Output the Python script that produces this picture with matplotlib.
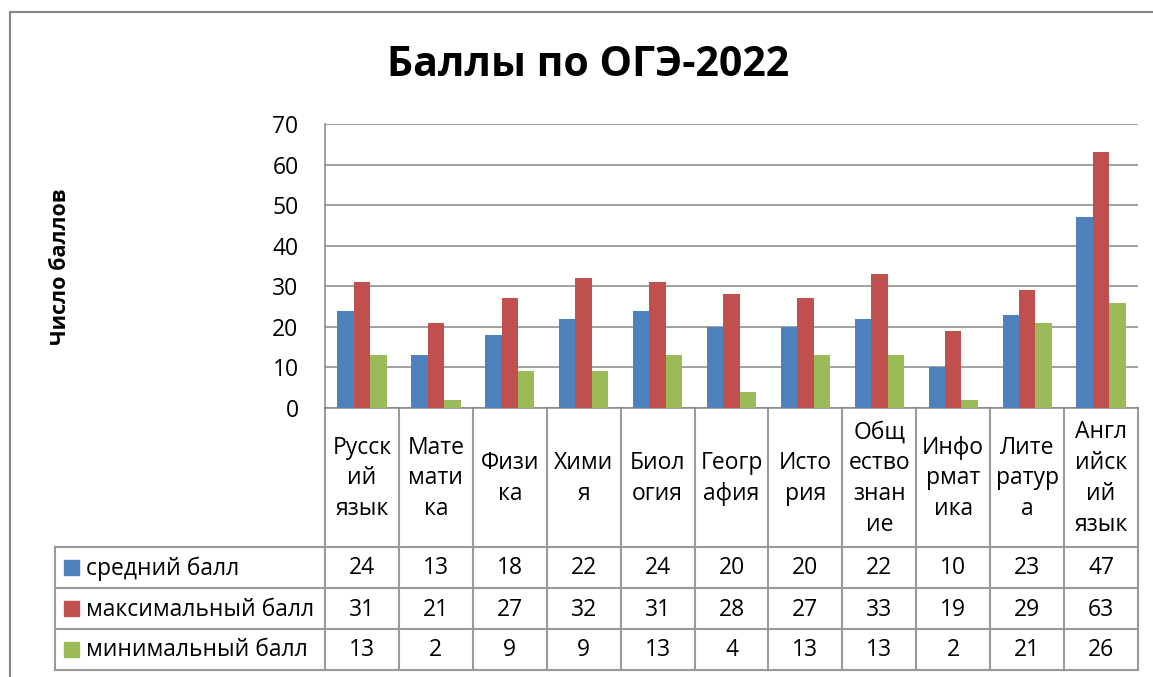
import numpy as np
import matplotlib
matplotlib.use("Agg")
import matplotlib.pyplot as plt
from matplotlib.patches import Rectangle

plt.rcParams['font.family'] = ['Open Sans', 'DejaVu Sans']

# данные
subjects = ["Русск\nий\nязык", "Мате\nмати\nка", "Физи\nка", "Хими\nя", "Биол\nогия",
            "Геогр\nафия", "Исто\nрия", "Общ\nество\nзнан\nие", "Инфо\nрмат\nика",
            "Лите\nратур\nа", "Англ\nийск\nий\nязык"]
series_names = ["средний балл", "максимальный балл", "минимальный балл"]
avg_score = [24, 13, 18, 22, 24, 20, 20, 22, 10, 23, 47]
max_score = [31, 21, 27, 32, 31, 28, 27, 33, 19, 29, 63]
min_score = [13, 2, 9, 9, 13, 4, 13, 13, 2, 21, 26]
yticks = [0, 10, 20, 30, 40, 50, 60, 70]

series = [avg_score, max_score, min_score]
colors = ["#4F81BD", "#C0504D", "#9BBB59"]
gridc = "#868686"

W, H = 1153, 677
fig = plt.figure(figsize=(W/100, H/100), dpi=100, facecolor="white")

# пиксельная подложка (рамка + таблица)
tax = fig.add_axes([0, 0, 1, 1], zorder=0)
tax.set_xlim(0, W)
tax.set_ylim(H, 0)
tax.axis("off")

# область графика
pl, pr, pt, pb = 325, 1138, 124, 408
ax = fig.add_axes([pl/W, 1-pb/H, (pr-pl)/W, (pb-pt)/H], zorder=1)
ax.patch.set_alpha(0)

n = len(subjects)
x = np.arange(n)
bw = 1/4.5
for k, (vals, c) in enumerate(zip(series, colors)):
    ax.bar(x + (k-1)*bw, vals, width=bw, color=c, zorder=3, label=series_names[k])

ax.set_xlim(-0.5, n-0.5)
ax.set_ylim(0, 70)
ax.set_yticks(yticks)
ax.set_yticklabels([str(v) for v in yticks], fontsize=16.5)
ax.tick_params(axis="y", length=0, pad=19)
ax.tick_params(axis="x", length=0, labelbottom=False)
ax.grid(axis="y", color=gridc, linewidth=1.1, zorder=0)
for s in ["top", "right"]:
    ax.spines[s].set_visible(False)
ax.spines["left"].set_color(gridc)
ax.spines["bottom"].set_color(gridc)
ax.spines["left"].set_linewidth(1.1)
ax.spines["bottom"].set_linewidth(1.1)

# внешняя рамка
tax.plot([10, 10], [12, H+5], color=gridc, lw=1.5)
tax.plot([10, W+5], [12, 12], color=gridc, lw=1.5)

# заголовок и подпись оси
tax.text(588, 66, "Баллы по ОГЭ-2022", fontsize=29.5, fontweight="bold",
         ha="center", va="center")
tax.text(60, 267, "Число баллов", fontsize=15.5, fontweight="bold",
         rotation=90, ha="center", va="center")

# таблица данных
cw = (pr - pl) / n
rows = [547, 588, 629, 670]
tl = 55
lc = "#9a9a9a"
for yy in rows:
    tax.plot([tl, pr], [yy, yy], color=lc, lw=1.5)
tax.plot([tl, tl], [rows[0], rows[-1]], color=lc, lw=1.5)
for i in range(n+1):
    xx = pl + i*cw
    tax.plot([xx, xx], [pb, rows[-1]], color=lc, lw=1.5)

for i, name in enumerate(subjects):
    cx = pl + (i+0.5)*cw
    tax.text(cx, (pb+rows[0])/2 + 1, name, fontsize=16.5, ha="center", va="center",
             linespacing=1.38, multialignment="center")
    for r, vals in enumerate(series):
        tax.text(cx, (rows[r]+rows[r+1])/2 + 1, str(vals[i]), fontsize=16.5,
                 ha="center", va="center")

for r, (nm, c) in enumerate(zip(series_names, colors)):
    cy = (rows[r]+rows[r+1])/2
    tax.add_patch(Rectangle((64, cy-7.5), 15, 15, color=c))
    tax.text(86, cy + 1, nm, fontsize=16.5, ha="left", va="center")

fig.savefig("out.png", dpi=100, facecolor="white")
